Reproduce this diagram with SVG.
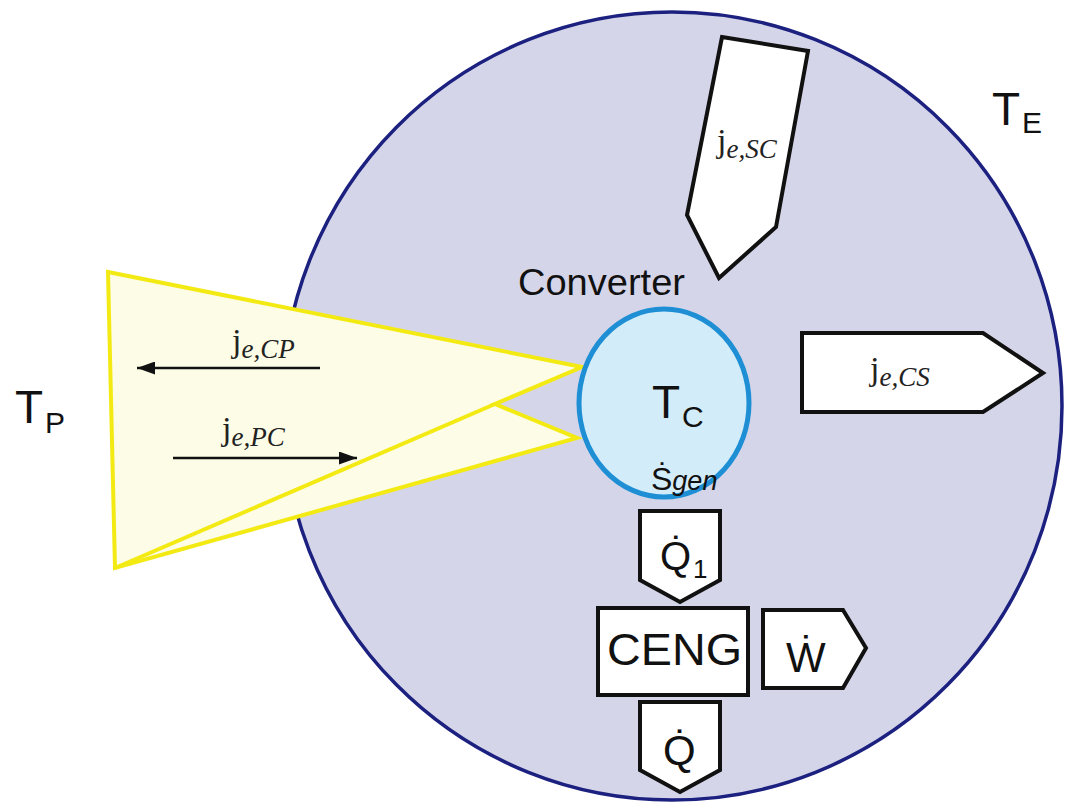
<svg xmlns="http://www.w3.org/2000/svg" width="1065" height="804" viewBox="0 0 1065 804">
<defs>
<style>
.sans{font-family:"Liberation Sans","DejaVu Sans",Arial,sans-serif;fill:#111}
.serif{font-family:"Liberation Serif","Times New Roman",serif;fill:#222}
.box{fill:#ffffff;stroke:#111;stroke-width:4;stroke-linejoin:miter}
.big{font-size:46px}
.sub{font-size:30px}
.it{font-style:italic}
</style>
<marker id="ah" markerUnits="userSpaceOnUse" markerWidth="18" markerHeight="13" refX="18" refY="6.5" orient="auto">
<path d="M0,0 L18,6.5 L0,13 z" fill="#111"/>
</marker>
</defs>
<rect width="1065" height="804" fill="#ffffff"/>
<g id="environment">
<ellipse cx="672" cy="406" rx="390" ry="394" fill="#d5d5e9" stroke="#1c2180" stroke-width="3.5"/>
<text class="sans" x="992" y="125"><tspan class="big">T</tspan><tspan class="sub" x="1022" y="133">E</tspan></text>
</g>
<g id="source">
<polygon points="108,272 582,367 495,404 577,438 115,568" fill="#fdfce6" stroke="#f3ea14" stroke-width="4" stroke-linejoin="miter"/>
<line x1="495" y1="404" x2="115" y2="568" stroke="#f3ea14" stroke-width="4"/>
</g>
<g id="tp-label">
<text class="sans" x="15" y="423"><tspan class="big">T</tspan><tspan class="sub" x="45" y="433">P</tspan></text>
</g>
<g id="converter">
<text class="sans" x="518" y="295" font-size="37" textLength="167" lengthAdjust="spacingAndGlyphs">Converter</text>
<ellipse cx="664" cy="403" rx="85" ry="94" fill="#d3ecf9" stroke="#1e8fd4" stroke-width="5"/>
<text class="sans" x="652" y="418"><tspan class="big">T</tspan><tspan class="sub" x="682" y="427">C</tspan></text>
<text class="sans" x="651" y="490"><tspan font-size="32">Ṡ</tspan><tspan class="it" font-size="27">gen</tspan></text>
</g>
<g id="je-sc">
<polygon class="box" points="722,37 808,51 776,227 719,278 687,215"/>
<text class="serif" x="717" y="152"><tspan font-size="34">j</tspan><tspan class="it" font-size="27" dy="6">e,SC</tspan></text>
</g>
<g id="je-cs">
<polygon class="box" points="802,333 983,333 1043,373 983,412 802,412"/>
<text class="serif" x="870" y="380"><tspan font-size="34">j</tspan><tspan class="it" font-size="27" dy="6">e,CS</tspan></text>
</g>
<g id="connectors">
<line x1="320" y1="368" x2="137" y2="368" stroke="#111" stroke-width="2.5" marker-end="url(#ah)"/>
<line x1="173" y1="458" x2="357" y2="458" stroke="#111" stroke-width="2.5" marker-end="url(#ah)"/>
</g>
<g id="je-cp">
<text class="serif" x="232" y="352"><tspan font-size="34">j</tspan><tspan class="it" font-size="27" dy="6">e,CP</tspan></text>
</g>
<g id="je-pc">
<text class="serif" x="222" y="440"><tspan font-size="34">j</tspan><tspan class="it" font-size="27" dy="6">e,PC</tspan></text>
</g>
<g id="q1">
<polygon class="box" points="640,511 720,511 720,580 680,602 640,580"/>
<text class="sans" x="660" y="570"><tspan font-size="40">Q̇</tspan><tspan x="693" y="578" font-size="26">1</tspan></text>
</g>
<g id="ceng">
<rect class="box" x="598" y="608" width="150" height="87"/>
<text class="sans" x="607" y="665" font-size="44" textLength="135" lengthAdjust="spacingAndGlyphs">CENG</text>
</g>
<g id="w">
<polygon class="box" points="763,610 843,610 866,648 843,688 763,688"/>
<text class="sans" x="786" y="672" font-size="42">Ẇ</text>
</g>
<g id="q">
<polygon class="box" points="640,702 720,702 720,770 680,792 640,770"/>
<text class="sans" x="663" y="765" font-size="42">Q̇</text>
</g>
</svg>
